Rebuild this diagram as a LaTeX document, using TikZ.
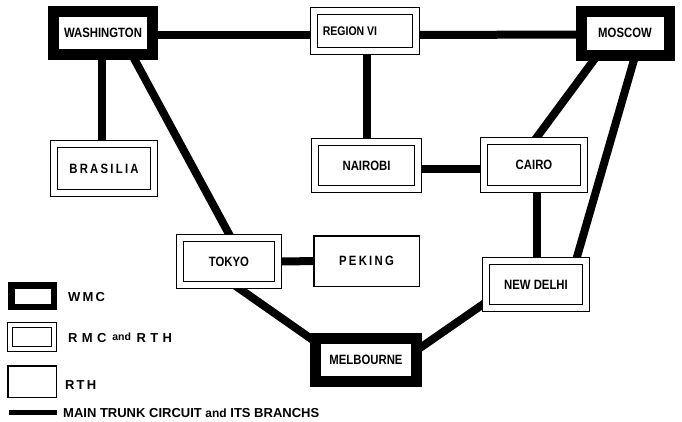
\documentclass[tikz,border=0pt]{standalone}
\usepackage{fontspec}
\setmainfont{Liberation Sans}
\newfontfamily\labfont{Liberation Sans}[FakeStretch=0.84]
\usetikzlibrary{calc,backgrounds}
\begin{document}
\begin{tikzpicture}[x=1pt,y=-1pt,
  conn/.style={line width=8pt},
  lab/.style={font=\labfont\bfseries\fontsize{13.5}{15}\selectfont},
  wmc/.style={draw, line width=11pt, fill=white, inner sep=0pt, lab},
  rmc/.style={draw, double, line width=1.3pt, double distance=6pt, fill=white, inner sep=0pt, lab},
  rth/.style={draw, line width=1.5pt, fill=white, inner sep=0pt, lab},
  legtext/.style={anchor=west, inner sep=0pt, font=\bfseries\fontsize{13}{15}\selectfont}
]
\useasboundingbox (0,0) rectangle (682,421);

\node[wmc, minimum width=99pt, minimum height=43pt] (W) at (103,33) {WASHINGTON};
\node[rmc, minimum width=102pt, minimum height=40pt] (R) at (365,31) {\fontsize{12.5}{14}\selectfont REGION VI\kern30pt};
\node[wmc, minimum width=88pt, minimum height=44pt] (M) at (625,33) {MOSCOW};
\node[rmc, minimum width=100pt, minimum height=49pt] (B) at (104,168.5) {B\,R\,A\,S\,I\,L\,I\,A};
\node[rmc, minimum width=103pt, minimum height=47pt] (N) at (366.5,165.5) {NAIROBI};
\node[rmc, minimum width=100pt, minimum height=48pt] (C) at (534,165) {CAIRO};
\node[rmc, minimum width=98pt, minimum height=47pt] (T) at (229,261.5) {TOKYO};
\node[rth, minimum width=105.5pt, minimum height=50.5pt] (P) at (366.5,261) {P\,E\,K\,I\,N\,G};
\node[rmc, minimum width=100pt, minimum height=47pt] (D) at (536,284.5) {NEW DELHI};
\node[wmc, minimum width=101pt, minimum height=43pt] (Mel) at (366,360) {MELBOURNE};

% legend
\node[draw, line width=6.5pt, fill=white, minimum width=42.5pt, minimum height=21.5pt, inner sep=0pt] (LW) at (32.5,296) {};
\node[draw, double, line width=1.2pt, double distance=3.5pt, fill=white, minimum width=44pt, minimum height=24pt, inner sep=0pt] (LR) at (32,337) {};
\node[draw, line width=1.5pt, fill=white, minimum width=48.5pt, minimum height=31.5pt, inner sep=0pt] (LT) at (32,381.5) {};
\coordinate (l1) at (9,412);
\coordinate (l2) at (57,412);
\draw[line width=5pt] (l1) -- (l2);

\node[legtext] (tW) at (68,297) {W\,M\,C};
\node[legtext] (tR) at (68,338) {R\,\,M\,\,C\, \raisebox{2pt}{\fontsize{10.5}{12}\selectfont and}\, R\,\,T\,\,H};
\node[legtext] (tT) at (65,385) {R\,T\,H};
\node[legtext] (tL) at (63,413) {MAIN TRUNK CIRCUIT {\fontsize{12}{14}\selectfont and} ITS BRANCHS};

\begin{pgfonlayer}{background}
\fill[white] (0,0) rectangle (682,421);
\draw[conn] ($(W)+(0,2)$) -- ($(R)+(0,4)$);
\draw[conn] ($(R)+(0,4)$) -- ($(M)+(0,1.5)$);
\draw[conn] ($(W)+(-1,0)$) -- ($(B)+(-2,0)$);
\draw[conn] ($(W)+(21,7)$) -- ($(T)+(5.4,-17.5)$);
\draw[conn] ($(R)+(2,0)$) -- ($(N)+(0.5,0)$);
\draw[conn] ($(N)+(0,3.5)$) -- ($(C)+(0,4)$);
\draw[conn] ($(M)+(-20,12)$) -- ($(C)+(-6.6,-15)$);
\draw[conn] ($(M)+(13.3,12)$) -- ($(D)+(37.2,-14.5)$);
\draw[conn] ($(C)+(2.5,0)$) -- ($(D)+(0.5,0)$);
\draw[conn] (T) -- (P);
\draw[conn] ($(T)+(-9,13.5)$) -- ($(Mel)+(-36,-8)$);
\draw[conn] ($(Mel)+(34,1.8)$) -- ($(D)+(-36,8)$);
\end{pgfonlayer}
\end{tikzpicture}
\end{document}
